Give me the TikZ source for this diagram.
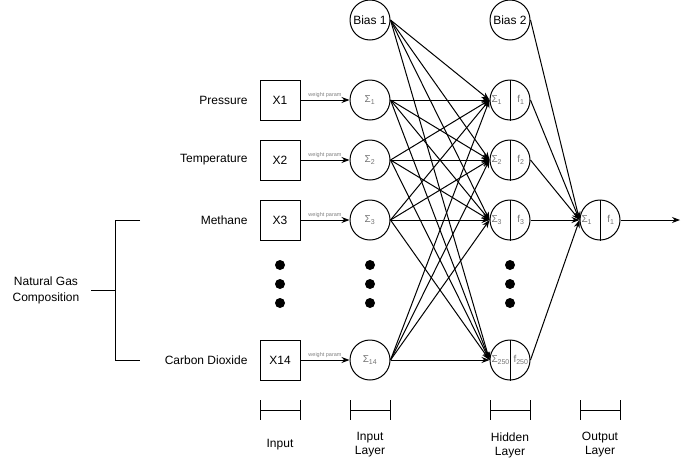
\documentclass[tikz,border=0pt]{standalone}
\usepackage{fontspec}
\setmainfont{Liberation Sans}
\usetikzlibrary{arrows.meta}

\tikzset{
  inbox/.style={draw,minimum size=40pt,inner sep=0pt,font=\fontsize{12}{14}\selectfont},
  neuron/.style={draw,circle,minimum size=40pt,inner sep=0pt},
  sumlab/.style={text=black!55,inner sep=0pt,font=\fontsize{10}{11}\selectfont},
  wlab/.style={text=gray,inner sep=1.5pt,font=\fontsize{5.5}{6}\selectfont},
  lab/.style={inner sep=0pt,font=\fontsize{12}{14}\selectfont},
  dot/.style={circle,fill,minimum size=10pt,inner sep=0pt},
}

\begin{document}
\begin{tikzpicture}[x=1pt,y=-1pt,line width=1pt,>={Stealth[length=8pt,width=6pt]}]
      \useasboundingbox (0,0) rectangle (690,461);
      % inputs
      \node[lab,anchor=east] (pres) at (248,100) {Pressure};
      \node[lab,anchor=east] (temp) at (248,160) {Temperature};
      \node[lab,anchor=east] (meth) at (248,220) {Methane};
      \node[lab,anchor=east] (codi) at (248,360) {Carbon Dioxide};
      \node[lab,align=center] (ngc) at (46,290) {Natural Gas\\[2pt]Composition};
      \draw (140,220) -- (115,220) -- (115,360) -- (140,360);
      \draw (91,290) -- (115,290);
      \node[inbox] (x1) at (280,100) {X1};
      \node[inbox] (x2) at (280,160) {X2};
      \node[inbox] (x3) at (280,220) {X3};
      \node[inbox] (x14) at (280,360) {X14};
      % input layer
      \node[neuron] (b1) at (370,20) {\fontsize{12}{14}\selectfont Bias 1};
      \node[neuron] (i1) at (370,100) {};
      \node[neuron] (i2) at (370,160) {};
      \node[neuron] (i3) at (370,220) {};
      \node[neuron] (i14) at (370,360) {};
      \node[sumlab] at (i1) {Σ\textsubscript{1}};
      \node[sumlab] at (i2) {Σ\textsubscript{2}};
      \node[sumlab] at (i3) {Σ\textsubscript{3}};
      \node[sumlab] at (i14) {Σ\textsubscript{14}};
      % hidden layer
      \node[neuron] (b2) at (510,20) {\fontsize{12}{14}\selectfont Bias 2};
      \node[neuron] (h1) at (510,100) {};
      \node[neuron] (h2) at (510,160) {};
      \node[neuron] (h3) at (510,220) {};
      \node[neuron] (h250) at (510,360) {};
      \foreach \h/\s in {h1/1,h2/2,h3/3,h250/250} {
        \draw (\h.north) -- (\h.south);
        \node[sumlab,anchor=west] at ([xshift=1.5pt]\h.west) {Σ\textsubscript{\s}};
        \node[sumlab] at ([xshift=11pt]\h.center) {f\textsubscript{\s}};
      }
      % output layer
      \node[neuron] (o1) at (600,220) {};
      \draw (o1.north) -- (o1.south);
      \node[sumlab,anchor=west] at ([xshift=1.5pt]o1.west) {Σ\textsubscript{1}};
      \node[sumlab] at ([xshift=11pt]o1.center) {f\textsubscript{1}};
      \coordinate (out) at (680,220);
      % dots
      \foreach \x in {280,370,510}
        \foreach \y in {265,284,303}
          \node[dot] at (\x,\y) {};
      % connections
      \draw[->] (x1.east) -- node[wlab,above] {weight param} (i1.west);
      \draw[->] (x2.east) -- node[wlab,above] {weight param} (i2.west);
      \draw[->] (x3.east) -- node[wlab,above] {weight param} (i3.west);
      \draw[->] (x14.east) -- node[wlab,above] {weight param} (i14.west);
      \foreach \h in {h1,h2,h3,h250} {
        \foreach \i in {b1,i1,i2,i3,i14}
          \draw[->] (\i.east) -- (\h.west);
        \draw[->] (\h.east) -- (o1.west);
      }
      \draw[->] (b2.east) -- (o1.west);
      \draw[->] (o1.east) -- (out);
      % layer marks
      \foreach \x in {280,370,510,600} {
        \draw (\x-20,400) -- (\x-20,420);
        \draw (\x+20,400) -- (\x+20,420);
        \draw (\x-20,410) -- (\x+20,410);
      }
      \node[lab] (inp) at (280,445) {Input};
      \node[lab,align=center] (inl) at (370,445) {Input\\Layer};
      \node[lab,align=center] (hil) at (510,445) {Hidden\\Layer};
      \node[lab,align=center] (oul) at (600,445) {Output\\Layer};
\end{tikzpicture}
\end{document}
